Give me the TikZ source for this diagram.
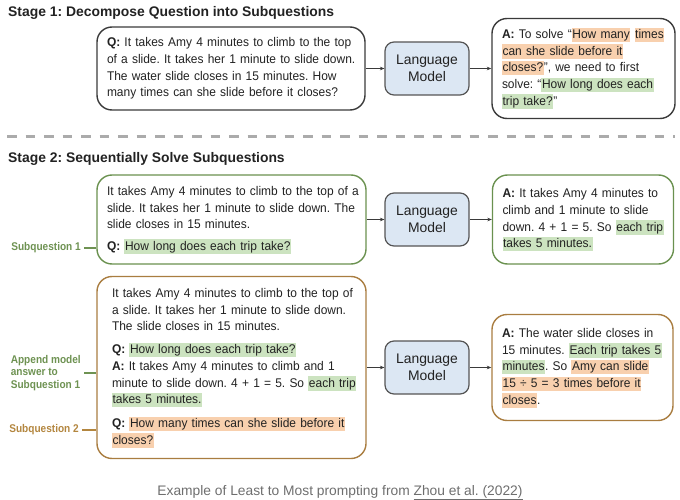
\documentclass[tikz,border=0pt]{standalone}
\usepackage{fontspec}
\setmainfont{Liberation Sans}
\newfontfamily\bodyfam[FakeStretch=0.95]{Liberation Sans}
\newfontfamily\labelfam[FakeStretch=0.9]{Liberation Sans}
\usetikzlibrary{arrows.meta}
\definecolor{hlgreen}{HTML}{CCE3C0}
\definecolor{hlorange}{HTML}{F8D0AE}
\definecolor{gborder}{HTML}{6A914F}
\definecolor{bborder}{HTML}{A97D40}
\definecolor{glabel}{HTML}{6E9252}
\definecolor{blabel}{HTML}{B3863F}
\definecolor{lmfill}{HTML}{DCE7F3}
\definecolor{lmdraw}{HTML}{555555}
\definecolor{kborder}{HTML}{3A3A3A}
\definecolor{dashgray}{HTML}{ABABAB}
\definecolor{capgray}{HTML}{6E6E6E}
\definecolor{txt}{HTML}{222222}
\frenchspacing
\newcommand\hlg[1]{{\setlength{\fboxsep}{0pt}\colorbox{hlgreen}{\kern0.6pt\rule[-3.6pt]{0pt}{14.4pt}#1\kern0.6pt}}}
\newcommand\hlo[1]{{\setlength{\fboxsep}{0pt}\colorbox{hlorange}{\kern0.6pt\rule[-3.6pt]{0pt}{14.4pt}#1\kern0.6pt}}}
\newcommand\bodyfont{\bodyfam\fontsize{12.6}{16.7}\selectfont\frenchspacing}
\newenvironment{boxlines}{\begin{tabular}{@{}l@{}}}{\end{tabular}}
\tikzset{
  textbox/.style={draw, rounded corners=15pt, line width=1.4pt, align=left,
    font=\bodyfont, text=txt, inner xsep=10pt, inner ysep=3pt},
  kbox/.style={textbox, draw=kborder},
  gbox/.style={textbox, draw=gborder},
  bbox/.style={textbox, draw=bborder},
  lmbox/.style={draw=lmdraw, fill=lmfill, rounded corners=9pt, line width=1.2pt,
    minimum width=84pt, minimum height=53pt, align=center, text=txt,
    font=\fontsize{13.9}{17}\selectfont},
  flow/.style={draw=kborder, line width=0.8pt, -{Stealth[length=4.5pt,width=3.6pt]}},
  stagetitle/.style={anchor=base west, inner sep=0pt, text=txt,
    font=\fontsize{13.9}{16}\selectfont\bfseries},
  sidelabel/.style={anchor=east, inner xsep=3pt, inner ysep=0pt, align=left,
    font=\labelfam\fontsize{11.2}{12.8}\selectfont\bfseries},
  tick/.style={line width=1.3pt},
}
\begin{document}
\begin{tikzpicture}[x=1pt,y=-1pt]
\useasboundingbox (0,0) rectangle (680,500);

% Stage 1
\node[stagetitle] (t1) at (8,17) {Stage 1: Decompose Question into Subquestions};
\node[kbox, text width=248pt, minimum height=83pt] (q1) at (231,68.5)
 {\begin{boxlines}\textbf{Q:} It takes Amy 4 minutes to climb to the top\\
  of a slide. It takes her 1 minute to slide down.\\
  The water slide closes in 15 minutes. How\\
  many times can she slide before it closes?\end{boxlines}};
\node[lmbox] (lm1) at (427,68.5) {Language\\Model};
\node[kbox, text width=163pt, minimum height=100pt] (a1) at (583.5,68.5)
 {\begin{boxlines}\textbf{A:} To solve “\hlo{How many} \hlo{times}\\
  \hlo{can she slide before it}\\
  \hlo{closes?}”, we need to first\\
  solve: “\hlg{How long does each}\\
  \hlg{trip take?}”\end{boxlines}};
\draw[flow] (q1) -- (lm1);
\draw[flow] (lm1) -- (a1);

% separator
\coordinate (sepL) at (7,137);
\coordinate (sepR) at (675,137);
\draw[dashgray, line width=3pt, dash pattern=on 9.5pt off 9pt] (sepL) -- (sepR);

% Stage 2
\node[stagetitle] (t2) at (8,163) {Stage 2: Sequentially Solve Subquestions};
\node[gbox, text width=249pt, minimum height=89pt] (q2) at (231.5,219.5)
 {\begin{boxlines}It takes Amy 4 minutes to climb to the top of a\\
  slide. It takes her 1 minute to slide down. The\\
  slide closes in 15 minutes.\\[4.5pt]
  \textbf{Q:} \hlg{How long does each trip take?}\end{boxlines}};
\node[lmbox] (lm2) at (427,219.5) {Language\\Model};
\node[gbox, text width=161pt, minimum height=89pt] (a2) at (583,219.5)
 {\begin{boxlines}\textbf{A:} It takes Amy 4 minutes to\\
  climb and 1 minute to slide\\
  down. 4 + 1 = 5. So \hlg{each trip}\\
  \hlg{takes 5 minutes.}\end{boxlines}};
\draw[flow] (q2) -- (lm2);
\draw[flow] (lm2) -- (a2);

\node[bbox, inner xsep=15pt, text width=239pt, minimum height=182pt] (q3) at (231.5,367.5)
 {\begin{boxlines}It takes Amy 4 minutes to climb to the top of\\
  a slide. It takes her 1 minute to slide down.\\
  The slide closes in 15 minutes.\\[6pt]
  \textbf{Q:} \hlg{How long does each trip take?}\\
  \textbf{A:} It takes Amy 4 minutes to climb and 1\\
  minute to slide down. 4 + 1 = 5. So \hlg{each trip}\\
  \hlg{takes 5 minutes.}\\[7pt]
  \textbf{Q:} \hlo{How many times can she slide before it}\\
  \hlo{closes?}\end{boxlines}};
\node[lmbox] (lm3) at (427,367.5) {Language\\Model};
\node[bbox, text width=161pt, minimum height=106pt] (a3) at (582.5,367.5)
 {\begin{boxlines}\textbf{A:} The water slide closes in\\
  15 minutes. \hlg{Each trip takes 5}\\
  \hlg{minutes}. So \hlo{Amy can slide}\\
  \hlo{15 ÷ 5 = 3 times before it}\\
  \hlo{closes}.\end{boxlines}};
\draw[flow] (q3) -- (lm3);
\draw[flow] (lm3) -- (a3);

% side labels
\node[sidelabel, text=glabel] (s1) at (84,248) {Subquestion 1};
\draw[tick, glabel] (s1.east) -- (s1.east -| q2.west);
\node[sidelabel, text=glabel] (s2) at (84,373) {Append model\\answer to\\Subquestion 1};
\draw[tick, glabel] (s2.east) -- (s2.east -| q3.west);
\node[sidelabel, text=blabel] (s3) at (82,430) {Subquestion 2};
\draw[tick, blabel] (s3.east) -- (s3.east -| q3.west);

% caption
\node[anchor=base, inner sep=0pt, text=capgray, font=\fontsize{13.8}{16}\selectfont] (cap) at (340,495)
 {Example of Least to Most prompting from \underline{Zhou et al. (2022)}};
\end{tikzpicture}
\end{document}
